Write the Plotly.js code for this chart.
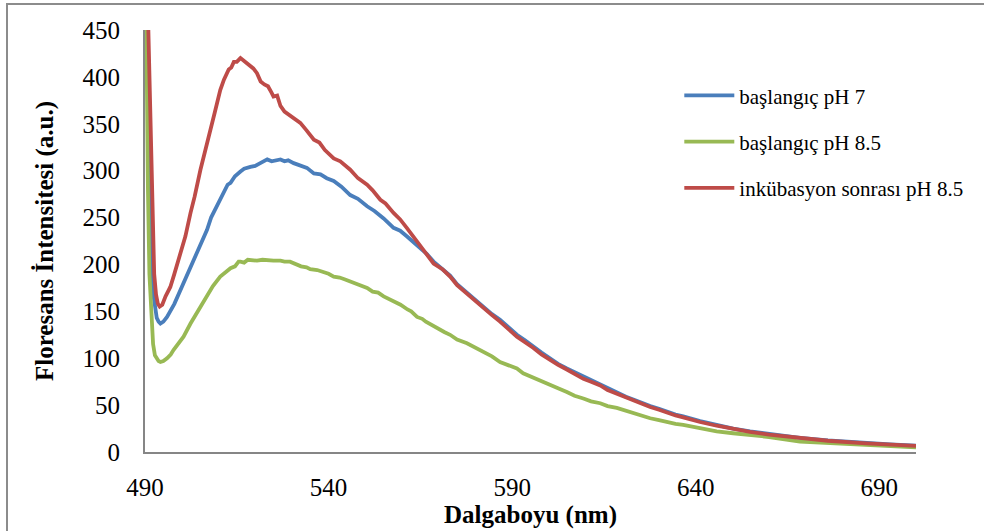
<!DOCTYPE html>
<html>
<head>
<meta charset="utf-8">
<script src="https://cdn.plot.ly/plotly-3.0.1.min.js"></script>
<style>
  html, body { margin: 0; padding: 0; background: #fff; }
  #chart { width: 984px; height: 531px; position: relative; }
  #frame { position: absolute; left: 6px; top: 3px; width: 1100px; height: 700px;
           border: 2px solid #8c8c8c; pointer-events: none; box-sizing: border-box; }
</style>
</head>
<body>
<div id="chart"></div>
<div id="frame"></div>
<script>
// Series names
const seriesNames = ["başlangıç pH 7", "başlangıç pH 8.5", "inkübasyon sonrası pH 8.5"];

// başlangıç pH 7 (blue)
const blueX = [490,490.7,491.2,491.7,492.2,492.7,493.2,493.7,494.2,495,496,498,499.7,501.5,503.3,505,506.9,508,509.6,510.5,511.4,512.5,513.3,514.5,516,517,518.7,520,521.4,522.5,523.3,524.5,525.5,526.9,528,529,530.5,532.3,534.1,536,537.8,539.5,541.4,543.5,545.9,548,550.5,552.5,555,557.7,559.5,561.3,563,565,566.8,568.6,571,573.1,575,577.7,580,582.2,584.5,586.7,589,591.3,593.5,595.8,598,600.3,602.5,604.9,607,609.4,611.5,614,616,618.5,621,623,625.5,627.6,630,632.1,634.5,636.6,639,641.2,645.7,650.2,654.8,660,668.4,676,686.5,693,700];
const blueY = [600,440,300,210,170,152,143,139,137,139,144,158,173,189,205,221,237,250,262,270,276,285,287,294,299,302,304,305,308,311,312,310,311,312,310,311,308,305,303,297,296,292,289,283,274,270,262,257,249,239,236,230,224,217,211,203,195,188,179,170,162,155,147,141,133,125,119,112,106,100,94,89,85,80,76,72,68,63,59,56,52,49,46,43,40,38,35,33,29,25,22,19,15,12.3,9.4,8.2,6.8];

// başlangıç pH 8.5 (green)
const greenX = [490,490.4,490.8,491.2,491.7,492.2,492.7,493.2,493.7,494.2,495,496,497,497.8,499,500.5,502.4,504,505.5,506.9,508.5,510.5,512,513.3,514.5,515.5,516,517,518,519.5,520.5,522,523.5,525,526.9,528,529.5,531.4,532.5,534,535,536.9,538.5,540,541.4,543,544.5,545.9,548,550.5,552,553.5,555,557,559.6,561.5,562.5,564.1,565.5,566.5,568.6,570.5,571.5,573.1,575,577.7,580,582,584.5,586.7,589,591.3,593,595.8,598,600.3,602.5,604.9,607,609.4,611.5,614,616,618.5,621,623,625.5,627.6,630,632.1,634.5,636.6,639,641.2,645.7,650.2,654.8,660,668.4,676,686.5,693,700];
const greenY = [600,420,280,190,140,115,103,99,97,96,97,100,104,109,115,123,137,147,157,166,177,187,192,196,198,203,203,202,205,204,204,205,204,204,204,203,203,200,198,197,195,194,192,190,187,186,184,182,178,175,171,170,166,162,157,152,150,144,142,139,134,130,128,125,120,116,111,107,102,96,92,89,84,79,76,72,68,64,60,57,54,52,49,47,44,41,38,36,34,32,30,29,27,25,22,20,18,16,11,9.5,7.5,6,5];

// inkübasyon sonrası pH 8.5 (red)
const redX = [490,491,491.5,492,492.5,493,493.5,494,494.7,495.6,496.9,498,498.8,500.1,501,502.4,503.5,505.1,506.5,507.8,509,510.5,511.5,512.8,513.5,514.2,515,516,517,518.7,519.5,520.5,521.5,522.5,523.5,524.5,525,526,526.9,528,530.5,532.3,534,536,537.5,539,541.4,543.2,545.9,548,550.5,552,554.1,555.5,557.7,559.5,561.3,563,565,566.5,568.6,571,573.1,575,577.7,580,582.2,584.5,586.7,589,591.3,593.5,595.8,598,600.3,602.5,604.9,607,609.4,611.5,614,616,618.5,621,623,625.5,627.6,630,632.1,634.5,636.6,639,641.2,645.7,650.2,654.8,660,668.4,676,686.5,693,700];
const redY = [600,440,330,240,190,168,158,155,157,166,176,190,201,216,230,255,272,301,322,344,362,386,397,408,410,416,416,420,417,411,409,404,395,392,390,383,379,380,369,363,356,351,343,333,330,322,313,310,301,292,285,279,269,265,255,248,239,230,219,211,201,195,187,178,169,160,153,146,139,131,123,117,111,104,98,93,88,83,78,75,71,66,62,58,55,51,48,45,42,39,37,34,32,28,24.5,21.5,18.5,14.6,12,9.2,8,6.5];

// Axis ticks
const xTicks = [490,540,590,640,690];
const yTicks = [0,50,100,150,200,250,300,350,400,450];

const serif = "'Liberation Serif', 'Times New Roman', serif";

const traces = [
  {x: blueX, y: blueY, name: seriesNames[0], legendgroup: 'a', mode: 'lines', line: {color: '#4A7EBB', width: 3.8}},
  {x: greenX, y: greenY, name: seriesNames[1], legendgroup: 'b', mode: 'lines', line: {color: '#98B954', width: 3.8}},
  {x: redX, y: redY, name: seriesNames[2], legendgroup: 'c', mode: 'lines', line: {color: '#BE4B48', width: 3.8}}
];

const layout = {
  width: 984, height: 531,
  margin: {l: 144.5, r: 68, t: 30, b: 79},
  paper_bgcolor: '#fff', plot_bgcolor: '#fff',
  showlegend: true,
  font: {family: serif, color: '#000'},
  xaxis: {
    range: [490, 700], tickvals: xTicks, ticktext: xTicks.map(String),
    showgrid: false, zeroline: false, showline: true, linecolor: '#868686', linewidth: 2,
    ticks: '', tickfont: {family: serif, size: 25, color: '#000'}, ticklabelstandoff: 12,
    title: {text: 'Dalgaboyu (nm)', font: {family: serif, size: 25, color: '#000', weight: 'bold'}, standoff: 5},
    automargin: false
  },
  yaxis: {
    range: [0, 450], tickvals: yTicks, ticktext: yTicks.map(String),
    showgrid: false, zeroline: false, showline: true, linecolor: '#868686', linewidth: 2,
    ticks: '', tickfont: {family: serif, size: 25, color: '#000'}, ticklabelstandoff: 18,
    title: {text: 'Floresans İntensitesi (a.u.)', font: {family: serif, size: 25, color: '#000', weight: 'bold'}, standoff: 22},
    automargin: false
  },
  legend: {
    x: 0.693, y: 0.893, xanchor: 'left', yanchor: 'top',
    bgcolor: 'rgba(0,0,0,0)', borderwidth: 0,
    font: {family: serif, size: 21, color: '#000'},
    traceorder: 'grouped', tracegroupgap: 16, itemwidth: 50
  }
};

Plotly.newPlot('chart', traces, layout, {displayModeBar: false, staticPlot: true});
</script>
</body>
</html>
